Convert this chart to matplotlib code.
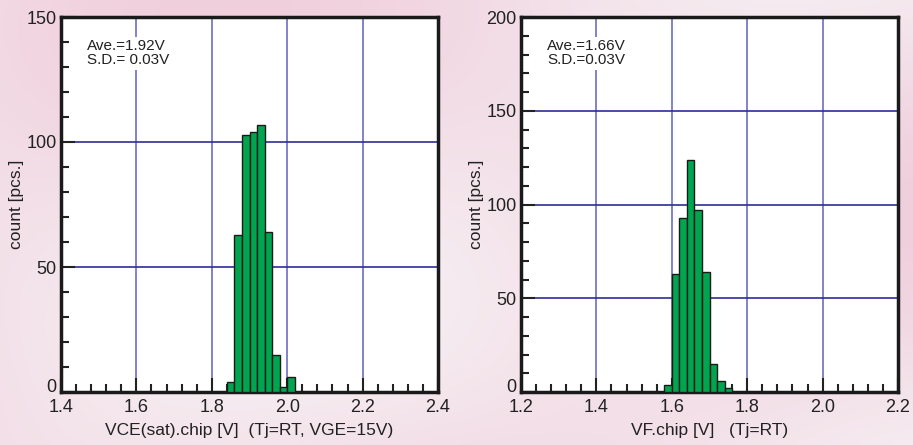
import numpy as np
import matplotlib
matplotlib.use('Agg')
import matplotlib.pyplot as plt
import matplotlib.transforms as mtransforms
from matplotlib.ticker import MultipleLocator, FormatStrFormatter, FuncFormatter

plt.rcParams['font.family'] = ['Liberation Sans', 'DejaVu Sans']

# VCE(sat) histogram (bin width 0.02 V)
vce_edges = [1.84, 1.86, 1.88, 1.90, 1.92, 1.94, 1.96, 1.98, 2.00]
vce_counts = [4, 63, 103, 104, 107, 64, 15, 2, 6]

# VF histogram (bin width 0.02 V)
vf_edges = [1.58, 1.60, 1.62, 1.64, 1.66, 1.68, 1.70, 1.72, 1.74]
vf_counts = [4, 63, 93, 124, 97, 64, 15, 6, 2]

bin_w = 0.02
bar_color = '#00a54f'

fig = plt.figure(figsize=(9.13, 4.45), dpi=100)
fig.patch.set_facecolor('#f4e4ea')

# soft pink background
bg = fig.add_axes([0, 0, 1, 1], zorder=-10)
yy, xx = np.mgrid[0:1:200j, 0:1:400j]
shade = 0.5 + 0.25 * np.sin(6 * xx + 4 * yy) + 0.25 * np.sin(3 * xx - 5 * yy + 1)
bg.imshow(shade, cmap=matplotlib.colors.LinearSegmentedColormap.from_list(
    'pk', ['#f6f0f3', '#f0cfdc']), aspect='auto', extent=[0, 1, 0, 1])
bg.axis('off')


def draw(ax, edges, counts, xlim, ylim, xlabel, txt):
    ax.bar(edges, counts, width=bin_w, align='edge', color=bar_color,
           edgecolor='#1a1a1a', linewidth=1.0, zorder=3)
    ax.set_xlim(*xlim)
    ax.set_ylim(*ylim)
    ax.xaxis.set_major_locator(MultipleLocator(0.2))
    ax.xaxis.set_minor_locator(MultipleLocator(0.04))
    ax.xaxis.set_major_formatter(FormatStrFormatter('%.1f'))
    ax.yaxis.set_major_locator(MultipleLocator(50))
    ax.yaxis.set_minor_locator(MultipleLocator(10))
    # the zero label sits a bit higher, drawn separately below
    ax.yaxis.set_major_formatter(FuncFormatter(
        lambda v, p: '' if v == 0 else '%d' % v))
    ax.tick_params(which='both', direction='in', top=False, right=False,
                   labelsize=13, width=1.5, color='#222222',
                   labelcolor='#222222')
    ax.tick_params(which='major', length=10)
    ax.tick_params(which='minor', length=6)
    ax.tick_params(axis='x', which='major', pad=5)
    ax.tick_params(axis='y', which='major', pad=3)
    ax.xaxis.grid(True, color='#6d6dc2', linewidth=1.2, zorder=1)
    ax.yaxis.grid(True, color='#2e2e98', linewidth=1.2, zorder=1)
    ax.set_axisbelow(True)
    for s in ax.spines.values():
        s.set_linewidth(2.5)
        s.set_color('#1a1a1a')
    trans = mtransforms.blended_transform_factory(ax.transAxes, ax.transData)
    ax.text(-0.012, 0, '0', transform=trans, ha='right', va='baseline',
            fontsize=13, color='#222222')
    ax.set_xlabel(xlabel, fontsize=12.5, labelpad=5, color='#222222')
    ax.set_ylabel('count [pcs.]', fontsize=12.5, labelpad=2, color='#222222')
    ax.text(0.07, 0.94, txt, transform=ax.transAxes, fontsize=11,
            va='top', ha='left', color='#222222', linespacing=0.95,
            bbox=dict(facecolor='white', edgecolor='none', pad=2), zorder=4)
    ax.set_facecolor('white')


ax1 = fig.add_axes([61 / 913, 53 / 445, 377 / 913, 375 / 445])
draw(ax1, vce_edges, vce_counts, (1.4, 2.4), (0, 150),
     'VCE(sat).chip [V]  (Tj=RT, VGE=15V)', 'Ave.=1.92V\nS.D.= 0.03V')

ax2 = fig.add_axes([521 / 913, 53 / 445, 377 / 913, 375 / 445])
draw(ax2, vf_edges, vf_counts, (1.2, 2.2), (0, 200),
     'VF.chip [V]   (Tj=RT)', 'Ave.=1.66V\nS.D.=0.03V')

fig.savefig('out.png', dpi=100, facecolor=fig.get_facecolor())
